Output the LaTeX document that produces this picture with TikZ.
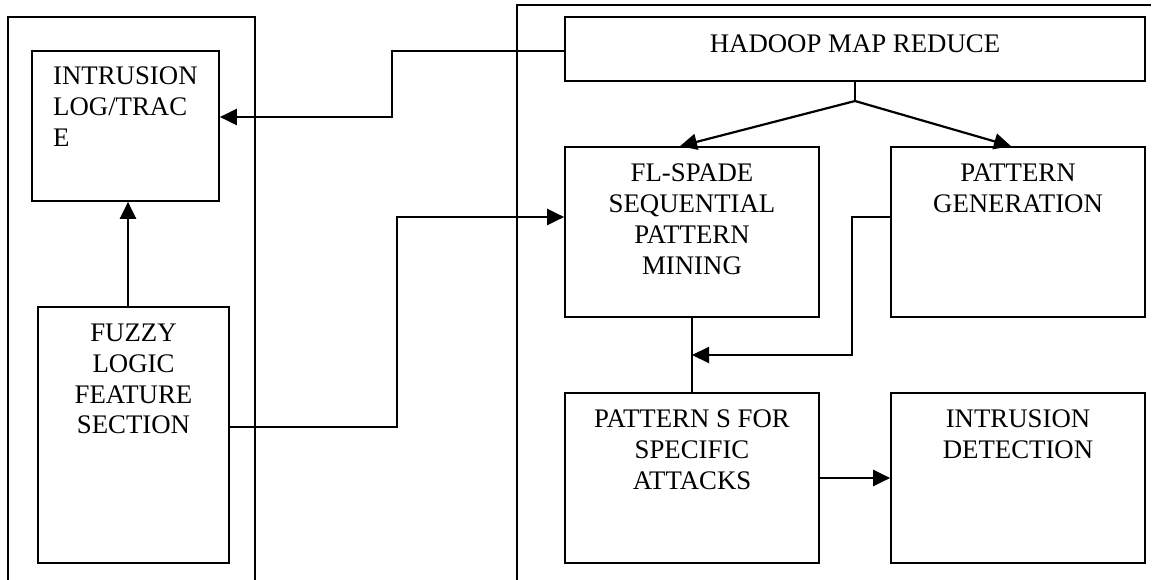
\documentclass[tikz,border=0pt]{standalone}
\usepackage{fontspec}
\setmainfont{Liberation Serif}
\usetikzlibrary{arrows.meta,calc}
\begin{document}
\begin{tikzpicture}[x=1pt,y=-1pt,
  box/.style={draw,line width=1.7pt,inner sep=0pt,minimum width=254pt,minimum height=170pt},
  lbl/.style={inner sep=0pt,anchor=north,align=center,font=\fontsize{26.8}{30.7}\selectfont},
  panel/.style={line width=1.7pt},
  link/.style={line width=2.2pt},
  arr/.style={line width=2.2pt,-{Triangle[length=17pt,width=16pt]}}]
\useasboundingbox (0,0) rectangle (1161,580);
% panels
\draw[panel] (8,580) -- (8,17) -- (255,17) -- (255,580);
\draw[panel] (517,580) -- (517,5) -- (1151,5);
% boxes
\node[box,minimum width=187pt,minimum height=150pt] (ilog) at (125.5,126) {};
\node[box,minimum width=191pt,minimum height=256pt] (fuzzy) at (133.5,435) {};
\node[box,minimum width=580pt,minimum height=64pt] (hadoop) at (855,49) {};
\node[box] (fl) at (692,232) {};
\node[box] (pg) at (1018,232) {};
\node[box] (pat) at (692,478) {};
\node[box] (det) at (1018,478) {};
% texts
\node[lbl,anchor=north west,align=left] (ilogt) at (53,67) {INTRUSION\\LOG/TRAC\\E};
\node[lbl] (fuzzyt) at (133.5,324) {FUZZY\\LOGIC\\FEATURE\\SECTION};
\node[lbl] (hadoopt) at (855,35) {HADOOP MAP REDUCE};
\node[lbl] (flt) at (692,164) {FL-SPADE\\SEQUENTIAL\\PATTERN\\MINING};
\node[lbl] (pgt) at (1018,164) {PATTERN\\GENERATION};
\node[lbl] (patt) at (692,410) {PATTERN S FOR\\SPECIFIC\\ATTACKS};
\node[lbl] (dett) at (1018,410) {INTRUSION\\DETECTION};
% connectors
\coordinate (j1) at (392,51);
\coordinate (j2) at (392,117);
\draw[arr] (hadoop.west |- j1) -- (j1) -- (j2) -- (j2 -| ilog.east);
\draw[arr] (fuzzy.north -| 128,0) -- (ilog.south -| 128,0);
\coordinate (k1) at (397,427);
\coordinate (k2) at (397,217);
\draw[arr] (k1 -| fuzzy.east) -- (k1) -- (k2) -- (k2 -| fl.west);
\coordinate (hj) at (hadoop.south |- 0,101);
\draw[link] (hadoop.south) -- (hj);
\draw[arr] (hj) -- ($(fl.north)+(-12,0)$);
\draw[arr] (hj) -- ($(pg.north)+(-7,0)$);
\draw[line width=1.7pt] (fl.south) -- (pat.north);
\coordinate (m1) at (852,217);
\coordinate (m2) at (852,355);
\draw[arr] (m1 -| pg.west) -- (m1) -- (m2) -- (m2 -| fl.south);
\draw[arr] (pat.east) -- (det.west);
\end{tikzpicture}
\end{document}
